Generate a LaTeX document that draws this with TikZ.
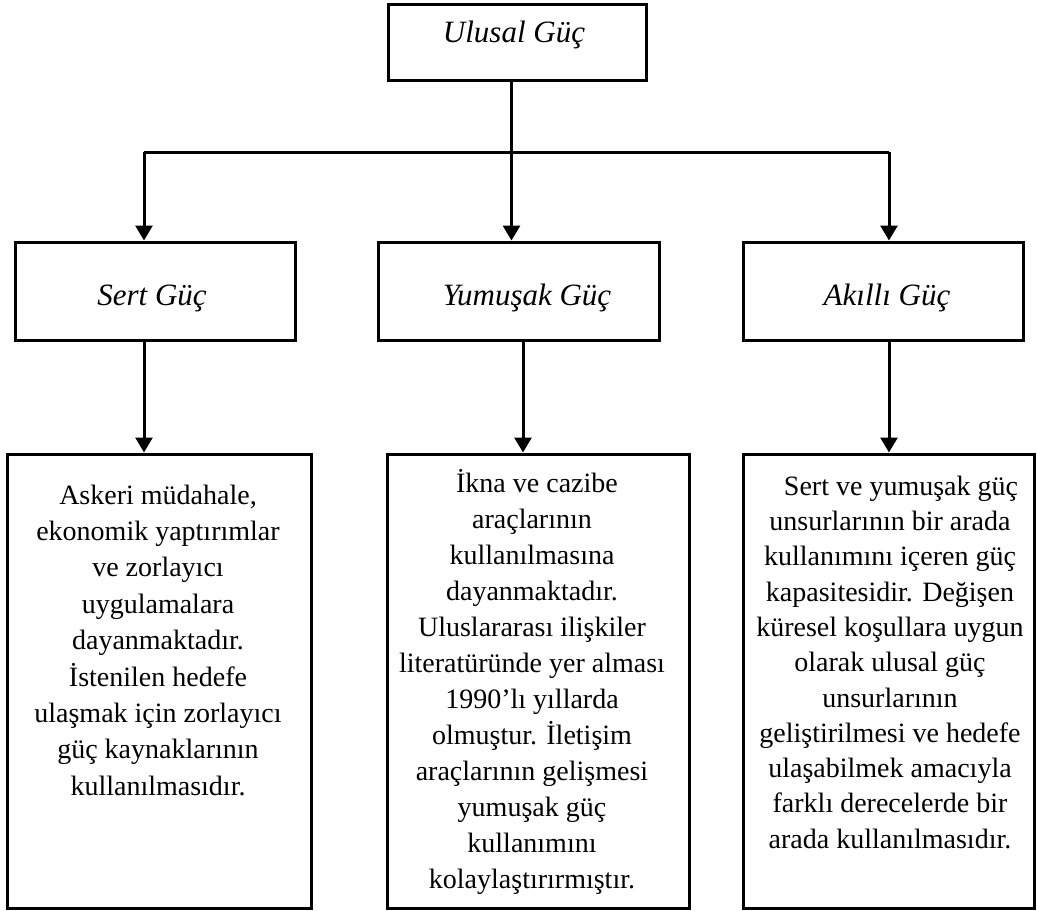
\documentclass[tikz,border=0pt]{standalone}
\usepackage{fontspec}
\setmainfont{Liberation Serif}
\usetikzlibrary{arrows.meta}
\begin{document}
\begin{tikzpicture}[x=1pt,y=-1pt,
  box/.style={draw,line width=3pt,rectangle,inner sep=0pt},
  head/.style={anchor=base,inner sep=0pt,font=\fontsize{31}{37}\selectfont\itshape},
  body/.style={anchor=north,inner sep=0pt,align=center},
  conn/.style={line width=3pt},
  arr/.style={line width=3pt,-{Triangle[width=17pt,length=15pt]}}]
\useasboundingbox (0,0) rectangle (1037,911);
% boxes
\node[box,minimum width=258pt,minimum height=76pt] (ulusal) at (517,42) {};
\node[box,minimum width=280pt,minimum height=98pt] (sert) at (155,291) {};
\node[box,minimum width=281pt,minimum height=98pt] (yumusak) at (518.5,291) {};
\node[box,minimum width=280pt,minimum height=98pt] (akilli) at (883,291) {};
\node[box,minimum width=304pt,minimum height=454pt] (sertd) at (159,681) {};
\node[box,minimum width=302pt,minimum height=454pt] (yumusakd) at (538,681) {};
\node[box,minimum width=291pt,minimum height=454pt] (akillid) at (888.5,681) {};
% headings
\node[head] (tu) at (514,42) {Ulusal Güç};
\node[head] (ts) at (152,305) {Sert Güç};
\node[head] (ty) at (527,305) {Yumuşak Güç};
\node[head] (ta) at (887,305) {Akıllı Güç};
% body texts
\node[body,font=\fontsize{28}{36.4}\selectfont] (bs) at (158,478.5) {\strut Askeri müdahale,\\ ekonomik yaptırımlar\\ ve zorlayıcı\\ uygulamalara\\ dayanmaktadır.\\ İstenilen hedefe\\ ulaşmak için zorlayıcı\\ güç kaynaklarının\\ kullanılmasıdır.};
\node[body,font=\fontsize{28}{36.06}\selectfont] (by) at (532,466.8) {\strut\hspace*{10pt}İkna ve cazibe\\ araçlarının\\ kullanılmasına\\ dayanmaktadır.\\ Uluslararası ilişkiler\\ literatüründe yer alması\\ 1990’lı yıllarda\\ olmuştur. İletişim\\ araçlarının gelişmesi\\ yumuşak güç\\ kullanımını\\ kolaylaştırırmıştır.};
\node[body,font=\fontsize{28}{35.3}\selectfont] (ba) at (890,470.3) {\strut\hspace*{22pt}Sert ve yumuşak güç\\ unsurlarının bir arada\\ kullanımını içeren güç\\ kapasitesidir. Değişen\\ küresel koşullara uygun\\ olarak ulusal güç\\ unsurlarının\\ geliştirilmesi ve hedefe\\ ulaşabilmek amacıyla\\ farklı derecelerde bir\\ arada kullanılmasıdır.};
% junction coordinates
\coordinate (j0) at (511.5,152);
\coordinate (jl) at (144,152);
\coordinate (jr) at (889,152);
\coordinate (jm) at (523,340);
% connectors
\draw[conn] (ulusal.south -| j0) -- (j0);
\draw[conn] (jl) -- (jr);
\draw[arr] (jl) -- (sert.north -| jl);
\draw[arr] (j0) -- (yumusak.north -| j0);
\draw[arr] (jr) -- (akilli.north -| jr);
\draw[arr] (sert.south -| jl) -- (sertd.north -| jl);
\draw[arr] (yumusak.south -| jm) -- (yumusakd.north -| jm);
\draw[arr] (akilli.south -| jr) -- (akillid.north -| jr);
\end{tikzpicture}
\end{document}
